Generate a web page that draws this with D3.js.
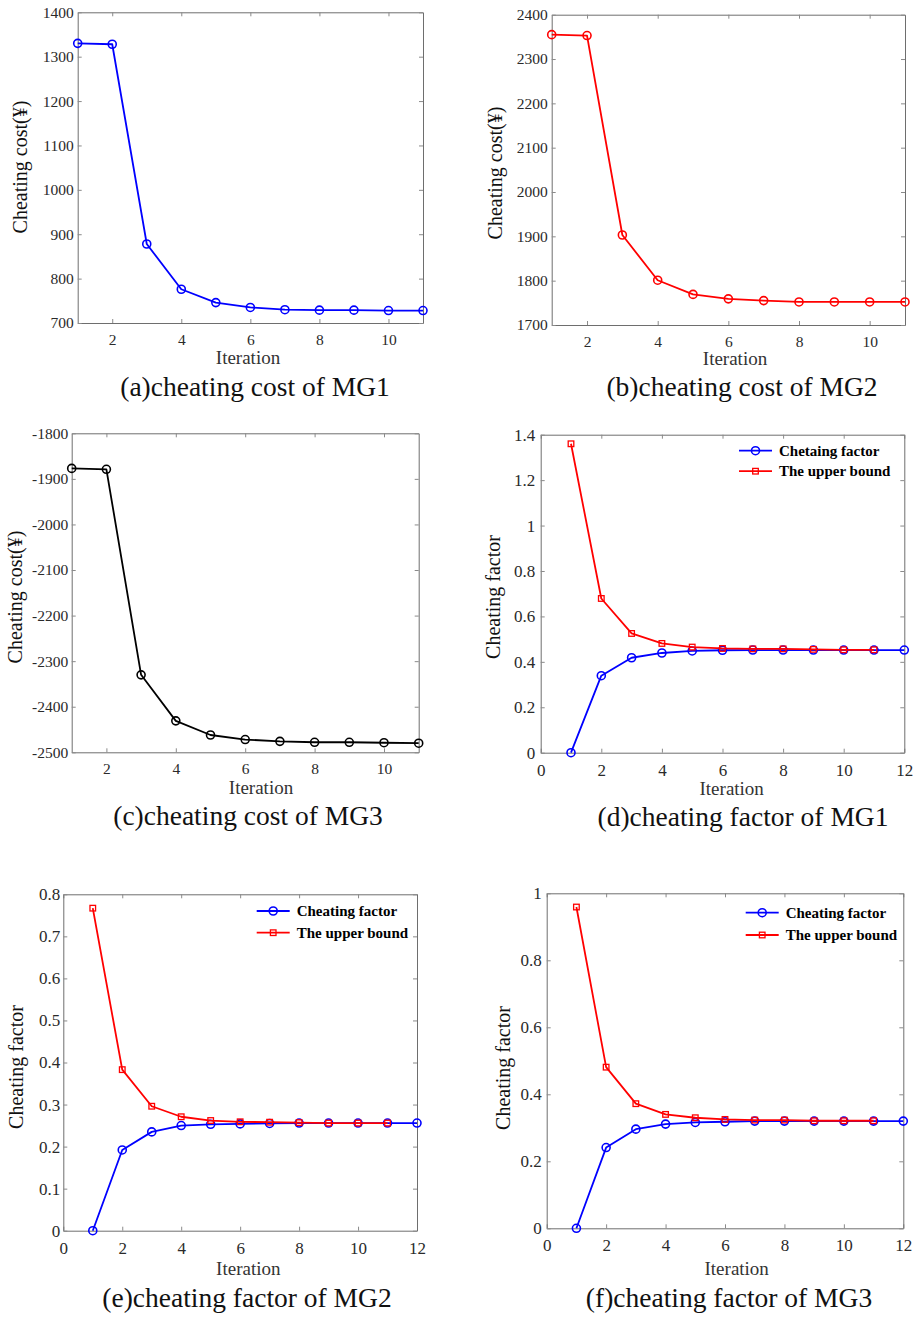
<!DOCTYPE html>
<html>
<head>
<meta charset="utf-8">
<script src="https://cdn.jsdelivr.net/npm/d3@7"></script>
<style>
  body { margin: 0; background: #fff; }
  svg { display: block; }
  text { font-family: "Liberation Serif", "Times New Roman", serif; }
</style>
</head>
<body>
<svg id="chart" width="919" height="1318"></svg>
<script>
// iterations
var iterCost = [1, 2, 3, 4, 5, 6, 7, 8, 9, 10, 11];
var iterFactor = [1, 2, 3, 4, 5, 6, 7, 8, 9, 10, 11, 12];
var iterBound = [1, 2, 3, 4, 5, 6, 7, 8, 9, 10, 11];

// cheating cost (yuan)
var costMG1 = [1330, 1328, 878, 776, 746, 735, 730, 729, 729, 728, 728];
var costMG2 = [2355, 2353, 1903, 1801, 1769, 1759, 1755, 1752, 1752, 1752, 1752];
var costMG3 = [-1877, -1879, -2330, -2431, -2462, -2472, -2476, -2478, -2478, -2479, -2480];

// cheating factor and its upper bound
var factorMG1 = [0, 0.339, 0.418, 0.439, 0.448, 0.451, 0.452, 0.452, 0.452, 0.452, 0.452, 0.452];
var boundMG1 = [1.36, 0.679, 0.525, 0.481, 0.465, 0.459, 0.457, 0.457, 0.455, 0.453, 0.453];
var factorMG2 = [0, 0.192, 0.235, 0.250, 0.253, 0.254, 0.255, 0.256, 0.256, 0.256, 0.256, 0.256];
var boundMG2 = [0.767, 0.383, 0.296, 0.271, 0.262, 0.259, 0.258, 0.257, 0.256, 0.256, 0.256];
var factorMG3 = [0, 0.241, 0.296, 0.311, 0.316, 0.318, 0.320, 0.320, 0.320, 0.320, 0.320, 0.320];
var boundMG3 = [0.959, 0.481, 0.372, 0.340, 0.330, 0.325, 0.323, 0.323, 0.321, 0.321, 0.321];

// ticks
var costXTicks = [2, 4, 6, 8, 10];
var factorXTicks = [0, 2, 4, 6, 8, 10, 12];
var costMG1Ticks = [700, 800, 900, 1000, 1100, 1200, 1300, 1400];
var costMG2Ticks = [1700, 1800, 1900, 2000, 2100, 2200, 2300, 2400];
var costMG3Ticks = [-2500, -2400, -2300, -2200, -2100, -2000, -1900, -1800];
var factorMG1Ticks = [0, 0.2, 0.4, 0.6, 0.8, 1, 1.2, 1.4];
var factorMG2Ticks = [0, 0.1, 0.2, 0.3, 0.4, 0.5, 0.6, 0.7, 0.8];
var factorMG3Ticks = [0, 0.2, 0.4, 0.6, 0.8, 1];

var costLabel = "Cheating cost(\u00a5)";
var factorLabel = "Cheating factor";
var BLUE = "#0000ff", RED = "#ff0000", BLACK = "#000000";

var svg = d3.select("#chart");

var panels = [
  {left: 77.7, right: 423, top: 12.3, bottom: 323, xDomain: [1, 11], yDomain: [700, 1400],
   xTicks: costXTicks, yTicks: costMG1Ticks, tickFont: 15.5, yPad: 4,
   yLab: costLabel, yLabX: 20.7, yLabY: 167, xLabX: 248, xLabY: 357,
   title: "(a)cheating cost of MG1", titleX: 255, titleY: 388,
   series: [{x: iterCost, y: costMG1, color: BLUE, mark: "circle"}]},
  {left: 551.7, right: 905, top: 14.7, bottom: 325, xDomain: [1, 11], yDomain: [1700, 2400],
   xTicks: costXTicks, yTicks: costMG2Ticks, tickFont: 15.5, yPad: 4,
   yLab: costLabel, yLabX: 495, yLabY: 173, xLabX: 735, xLabY: 358,
   title: "(b)cheating cost of MG2", titleX: 742, titleY: 388,
   series: [{x: iterCost, y: costMG2, color: RED, mark: "circle"}]},
  {left: 71.7, right: 418.7, top: 433.3, bottom: 752.3, xDomain: [1, 11], yDomain: [-2500, -1800],
   xTicks: costXTicks, yTicks: costMG3Ticks, tickFont: 15.5, yPad: 3.5,
   yLab: costLabel, yLabX: 15.7, yLabY: 597, xLabX: 261, xLabY: 787,
   title: "(c)cheating cost of MG3", titleX: 248, titleY: 817,
   series: [{x: iterCost, y: costMG3, color: BLACK, mark: "circle"}]},
  {left: 540.7, right: 904.3, top: 434.7, bottom: 752.7, xDomain: [0, 12], yDomain: [0, 1.4],
   xTicks: factorXTicks, yTicks: factorMG1Ticks, tickFont: 17, yPad: 5.5,
   yLab: factorLabel, yLabX: 493.3, yLabY: 597, xLabX: 731.7, xLabY: 788,
   title: "(d)cheating factor of MG1", titleX: 743, titleY: 818,
   legend: {x: 739, y: 450.7, gap: 20.5, names: ["Chetaing factor", "The upper bound"]},
   series: [{x: iterFactor, y: factorMG1, color: BLUE, mark: "circle"},
            {x: iterBound, y: boundMG1, color: RED, mark: "square"}]},
  {left: 63.3, right: 417, top: 894.3, bottom: 1230.7, xDomain: [0, 12], yDomain: [0, 0.8],
   xTicks: factorXTicks, yTicks: factorMG2Ticks, tickFont: 17, yPad: 3,
   yLab: factorLabel, yLabX: 16.7, yLabY: 1067, xLabX: 248.3, xLabY: 1268,
   title: "(e)cheating factor of MG2", titleX: 247, titleY: 1299,
   legend: {x: 256.7, y: 911, gap: 21.7, names: ["Cheating factor", "The upper bound"]},
   series: [{x: iterFactor, y: factorMG2, color: BLUE, mark: "circle"},
            {x: iterBound, y: boundMG2, color: RED, mark: "square"}]},
  {left: 546.7, right: 903.3, top: 893.3, bottom: 1228.3, xDomain: [0, 12], yDomain: [0, 1],
   xTicks: factorXTicks, yTicks: factorMG3Ticks, tickFont: 17, yPad: 5,
   yLab: factorLabel, yLabX: 503.3, yLabY: 1068, xLabX: 736.7, xLabY: 1268,
   title: "(f)cheating factor of MG3", titleX: 729, titleY: 1299,
   legend: {x: 745.7, y: 912.7, gap: 22.3, names: ["Cheating factor", "The upper bound"]},
   series: [{x: iterFactor, y: factorMG3, color: BLUE, mark: "circle"},
            {x: iterBound, y: boundMG3, color: RED, mark: "square"}]}
];

//画标记
var drawMark = function(sel, type, color) {
  if (type == "circle") {
    sel.append("circle").attr("r", 4)
      .attr("fill", "none").attr("stroke", color).attr("stroke-width", 1.6);
  } else {
    sel.append("rect").attr("x", -2.8).attr("y", -2.8).attr("width", 5.6).attr("height", 5.6)
      .attr("fill", "none").attr("stroke", color).attr("stroke-width", 1.3);
  }
};

var yFmt = function(d) { return String(+d.toFixed(2)); };

var drawPanel = function(p) {
  var g = svg.append("g");
  var x = d3.scaleLinear().domain(p.xDomain).range([p.left, p.right]);
  var y = d3.scaleLinear().domain(p.yDomain).range([p.bottom, p.top]);

  //坐标轴 (ticks inward, mirrored box)
  var ax = g.append("g").attr("class", "axes");
  ax.append("g").attr("transform", "translate(0," + p.bottom + ")")
    .call(d3.axisBottom(x).tickValues(p.xTicks).tickSizeInner(-4).tickSizeOuter(0).tickPadding(11).tickFormat(d3.format("d")));
  ax.append("g").attr("transform", "translate(0," + p.top + ")")
    .call(d3.axisTop(x).tickValues(p.xTicks).tickSizeInner(-4).tickSizeOuter(0).tickFormat(""));
  ax.append("g").attr("transform", "translate(" + p.left + ",0)")
    .call(d3.axisLeft(y).tickValues(p.yTicks).tickSizeInner(-4).tickSizeOuter(0).tickPadding(p.yPad).tickFormat(yFmt));
  ax.append("g").attr("transform", "translate(" + p.right + ",0)")
    .call(d3.axisRight(y).tickValues(p.yTicks).tickSizeInner(-4).tickSizeOuter(0).tickFormat(""));
  ax.selectAll("g").attr("font-family", null).attr("font-size", null);
  ax.selectAll(".domain").attr("stroke", "#6e6e6e").attr("stroke-width", 1);
  ax.selectAll(".tick line").attr("stroke", "#8a8a8a");
  ax.selectAll(".tick text").attr("fill", "#2a2a2a").style("font-size", p.tickFont + "px")
    .style("font-family", "'Liberation Serif', serif");

  //轴标签
  g.append("text").attr("x", p.xLabX).attr("y", p.xLabY + 6.5)
    .attr("text-anchor", "middle").attr("fill", "#333").style("font-size", "19px").text("Iteration");
  g.append("text").attr("transform", "translate(" + (p.yLabX + 6.5) + "," + p.yLabY + ") rotate(-90)")
    .attr("text-anchor", "middle").attr("fill", "#111").style("font-size", "20px").text(p.yLab);
  g.append("text").attr("x", p.titleX).attr("y", p.titleY + 8)
    .attr("text-anchor", "middle").attr("fill", "#111").style("font-size", "27.5px").text(p.title);

  //折线
  p.series.forEach(function(s) {
    var pts = s.x.map(function(v, i) { return [v, s.y[i]]; });
    var line = d3.line().x(function(d) { return x(d[0]); }).y(function(d) { return y(d[1]); });
    g.append("path").datum(pts)
      .attr("fill", "none").attr("stroke", s.color).attr("stroke-width", 1.8)
      .attr("stroke-linejoin", "round").attr("d", line);
    g.selectAll(null).data(pts).enter().append("g")
      .attr("transform", function(d) { return "translate(" + x(d[0]) + "," + y(d[1]) + ")"; })
      .each(function() { drawMark(d3.select(this), s.mark, s.color); });
  });

  //图例
  if (p.legend) {
    p.series.forEach(function(s, i) {
      var ly = p.legend.y + i * p.legend.gap;
      var lg = g.append("g");
      lg.append("line").attr("x1", p.legend.x).attr("x2", p.legend.x + 33)
        .attr("y1", ly).attr("y2", ly).attr("stroke", s.color).attr("stroke-width", 1.8);
      drawMark(lg.append("g").attr("transform", "translate(" + (p.legend.x + 16.5) + "," + ly + ")"), s.mark, s.color);
      lg.append("text").attr("x", p.legend.x + 40).attr("y", ly + 5)
        .style("font-size", "15px").style("font-weight", "bold").attr("fill", "#000")
        .text(p.legend.names[i]);
    });
  }
};

panels.forEach(drawPanel);
</script>
</body>
</html>
